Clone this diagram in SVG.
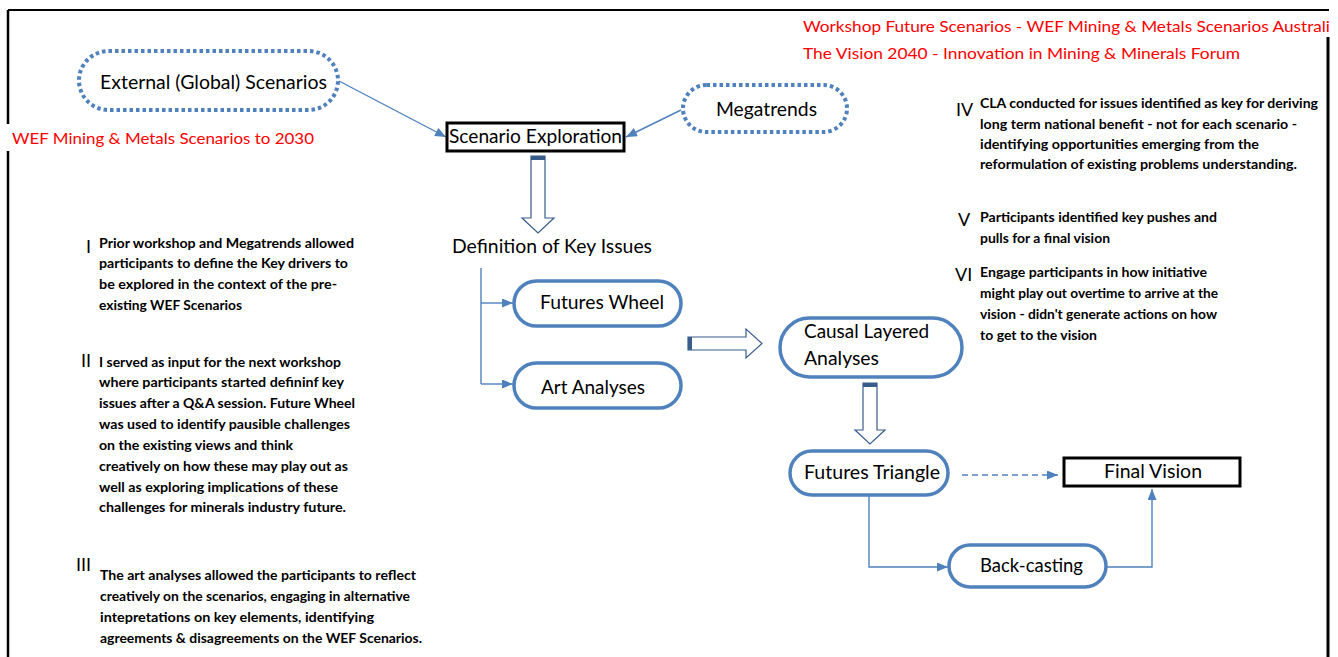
<svg xmlns="http://www.w3.org/2000/svg" width="1338" height="657" viewBox="0 0 1338 657">
<style>
  text { font-family: Lato, "Liberation Sans", sans-serif; fill: #000; }
  .lbl { font-size: 18.5px; }
  .red { font-size: 16px; fill: #FF0000; }
  .para { font-size: 13.3px; font-weight: bold; }
  .num { font-size: 18px; }
  .cap { fill: #fff; stroke: #4F81BD; stroke-width: 3.5; }
  .dot { fill: #fff; stroke: #4F81BD; stroke-width: 4; stroke-dasharray: 3.5 3; }
  .box { fill: #fff; stroke: #000; stroke-width: 3; }
  .con { fill: none; stroke: #4F81BD; stroke-width: 1.4; }
  .blk { fill: #fff; stroke: #385D8A; stroke-width: 1.2; }
  .blkcap { fill: #385D8A; }
</style>
<defs>
  <marker id="ah" markerUnits="userSpaceOnUse" markerWidth="11" markerHeight="9" refX="11" refY="4.5" orient="auto">
    <path d="M0,0 L11,4.5 L0,9 Z" fill="#4F81BD"/>
  </marker>
</defs>
<rect width="1338" height="657" fill="#fff"/>
<g id="frame" fill="none" stroke="#000">
  <path d="M8,10 H1329" stroke-width="2"/>
  <path d="M8,10 V124 M8,151 V657" stroke-width="2.5"/>
  <path d="M1328,37 V657" stroke-width="3"/>
</g>
<g id="titles">
  <text class="red" x="803" y="32" textLength="527" lengthAdjust="spacingAndGlyphs">Workshop Future Scenarios - WEF Mining &amp; Metals Scenarios Australi</text>
  <text class="red" x="803" y="59" textLength="437" lengthAdjust="spacingAndGlyphs">The Vision 2040 - Innovation in Mining &amp; Minerals Forum</text>
  <text class="red" x="12" y="144" textLength="302" lengthAdjust="spacingAndGlyphs">WEF Mining &amp; Metals Scenarios to 2030</text>
</g>
<g id="connectors">
  <path class="con" d="M339,81 L446,137" marker-end="url(#ah)"/>
  <path class="con" d="M681,110 L626,137" marker-end="url(#ah)"/>
  <path class="con" d="M481,268 V384"/>
  <path class="con" d="M481,303 H513" marker-end="url(#ah)"/>
  <path class="con" d="M481,384 H513" marker-end="url(#ah)"/>
  <path class="con" d="M869,495 V567 H948" marker-end="url(#ah)"/>
  <path class="con" d="M1106,567 H1152 V489" marker-end="url(#ah)"/>
  <path class="con" d="M962,475 H1058" stroke-dasharray="6 4" marker-end="url(#ah)"/>
  <g id="block-arrows">
    <path class="blk" d="M531,156 H545 V218 H554 L538,233 L522,218 H531 Z"/>
    <rect class="blkcap" x="531" y="156" width="14" height="4"/>
    <path class="blk" d="M688,337 H746 V329 L762,343.5 L746,358 V350 H688 Z"/>
    <rect class="blkcap" x="688" y="337" width="4" height="13"/>
    <path class="blk" d="M863,383 H877 V430 H885 L870,444 L855,430 H863 Z"/>
    <rect class="blkcap" x="863" y="383" width="14" height="4"/>
  </g>
</g>
<g id="external">
  <rect class="dot" x="79" y="51" width="259" height="59" rx="29.5"/>
  <text class="lbl" x="100" y="89" textLength="227" lengthAdjust="spacingAndGlyphs">External (Global) Scenarios</text>
</g>
<g id="megatrends">
  <rect class="dot" x="683" y="85" width="164" height="47" rx="23.5"/>
  <text class="lbl" x="716" y="116" textLength="101" lengthAdjust="spacingAndGlyphs">Megatrends</text>
</g>
<g id="scenario-exploration">
  <rect class="box" x="447" y="123" width="177" height="28"/>
  <text class="lbl" x="449" y="143" textLength="173" lengthAdjust="spacingAndGlyphs">Scenario Exploration</text>
</g>
<g id="definition">
  <text class="lbl" x="452" y="253" textLength="200" lengthAdjust="spacingAndGlyphs">Definition of Key Issues</text>
</g>
<g id="futures-wheel">
  <rect class="cap" x="514" y="281" width="167" height="45" rx="22.5"/>
  <text class="lbl" x="540" y="309" textLength="124" lengthAdjust="spacingAndGlyphs">Futures Wheel</text>
</g>
<g id="art-analyses">
  <rect class="cap" x="514" y="363" width="167" height="45" rx="22.5"/>
  <text class="lbl" x="541" y="394" textLength="104" lengthAdjust="spacingAndGlyphs">Art Analyses</text>
</g>
<g id="causal">
  <rect class="cap" x="780" y="318" width="182" height="59" rx="29.5"/>
  <text class="lbl" x="804" y="338" textLength="125" lengthAdjust="spacingAndGlyphs">Causal Layered</text>
  <text class="lbl" x="804" y="365" textLength="75" lengthAdjust="spacingAndGlyphs">Analyses</text>
</g>
<g id="futures-triangle">
  <rect class="cap" x="790" y="451" width="158" height="44" rx="22"/>
  <text class="lbl" x="804" y="479" textLength="136" lengthAdjust="spacingAndGlyphs">Futures Triangle</text>
</g>
<g id="final-vision">
  <rect class="box" x="1064" y="458" width="176" height="28"/>
  <text class="lbl" x="1104" y="478" textLength="98" lengthAdjust="spacingAndGlyphs">Final Vision</text>
</g>
<g id="back-casting">
  <rect class="cap" x="949" y="545" width="157" height="42" rx="21"/>
  <text class="lbl" x="980" y="572" textLength="103" lengthAdjust="spacingAndGlyphs">Back-casting</text>
</g>
<g id="note-I">
  <text class="num" x="86" y="253">I</text>
  <text class="para" x="99" y="248" textLength="255" lengthAdjust="spacingAndGlyphs">Prior workshop and Megatrends allowed</text>
  <text class="para" x="99" y="268" textLength="249" lengthAdjust="spacingAndGlyphs">participants to define the Key drivers to</text>
  <text class="para" x="99" y="289" textLength="238" lengthAdjust="spacingAndGlyphs">be explored in the context of the pre-</text>
  <text class="para" x="99" y="310" textLength="143" lengthAdjust="spacingAndGlyphs">existing WEF Scenarios</text>
</g>
<g id="note-II">
  <text class="num" x="81" y="367">II</text>
  <text class="para" x="99" y="367" textLength="242" lengthAdjust="spacingAndGlyphs">I served as input for the next workshop</text>
  <text class="para" x="99" y="387" textLength="245" lengthAdjust="spacingAndGlyphs">where participants started defininf key</text>
  <text class="para" x="99" y="408" textLength="256" lengthAdjust="spacingAndGlyphs">issues after a Q&amp;A session. Future Wheel</text>
  <text class="para" x="99" y="429" textLength="251" lengthAdjust="spacingAndGlyphs">was used to identify pausible challenges</text>
  <text class="para" x="99" y="450" textLength="194" lengthAdjust="spacingAndGlyphs">on the existing views and think</text>
  <text class="para" x="99" y="471" textLength="249" lengthAdjust="spacingAndGlyphs">creatively on how these may play out as</text>
  <text class="para" x="99" y="492" textLength="239" lengthAdjust="spacingAndGlyphs">well as exploring implications of these</text>
  <text class="para" x="99" y="512" textLength="247" lengthAdjust="spacingAndGlyphs">challenges for minerals industry future.</text>
</g>
<g id="note-III">
  <text class="num" x="76" y="571">III</text>
  <text class="para" x="100" y="580" textLength="316" lengthAdjust="spacingAndGlyphs">The art analyses allowed the participants to reflect</text>
  <text class="para" x="100" y="601" textLength="310" lengthAdjust="spacingAndGlyphs">creatively on the scenarios, engaging in alternative</text>
  <text class="para" x="100" y="622" textLength="274" lengthAdjust="spacingAndGlyphs">intepretations on key elements, identifying</text>
  <text class="para" x="100" y="643" textLength="322" lengthAdjust="spacingAndGlyphs">agreements &amp; disagreements on the WEF Scenarios.</text>
</g>
<g id="note-IV">
  <text class="num" x="956" y="116">IV</text>
  <text class="para" x="980" y="108" textLength="338" lengthAdjust="spacingAndGlyphs">CLA conducted for issues identified as key for deriving</text>
  <text class="para" x="980" y="129" textLength="317" lengthAdjust="spacingAndGlyphs">long term national benefit - not for each scenario -</text>
  <text class="para" x="980" y="149" textLength="279" lengthAdjust="spacingAndGlyphs">identifying opportunities emerging from the</text>
  <text class="para" x="980" y="169" textLength="317" lengthAdjust="spacingAndGlyphs">reformulation of existing problems understanding.</text>
</g>
<g id="note-V">
  <text class="num" x="958" y="226">V</text>
  <text class="para" x="980" y="222" textLength="237" lengthAdjust="spacingAndGlyphs">Participants identified key pushes and</text>
  <text class="para" x="980" y="243" textLength="130" lengthAdjust="spacingAndGlyphs">pulls for a final vision</text>
</g>
<g id="note-VI">
  <text class="num" x="955" y="281">VI</text>
  <text class="para" x="980" y="277" textLength="227" lengthAdjust="spacingAndGlyphs">Engage participants in how initiative</text>
  <text class="para" x="980" y="298" textLength="238" lengthAdjust="spacingAndGlyphs">might play out overtime to arrive at the</text>
  <text class="para" x="980" y="319" textLength="237" lengthAdjust="spacingAndGlyphs">vision - didn't generate actions on how</text>
  <text class="para" x="980" y="340" textLength="117" lengthAdjust="spacingAndGlyphs">to get to the vision</text>
</g>
</svg>
